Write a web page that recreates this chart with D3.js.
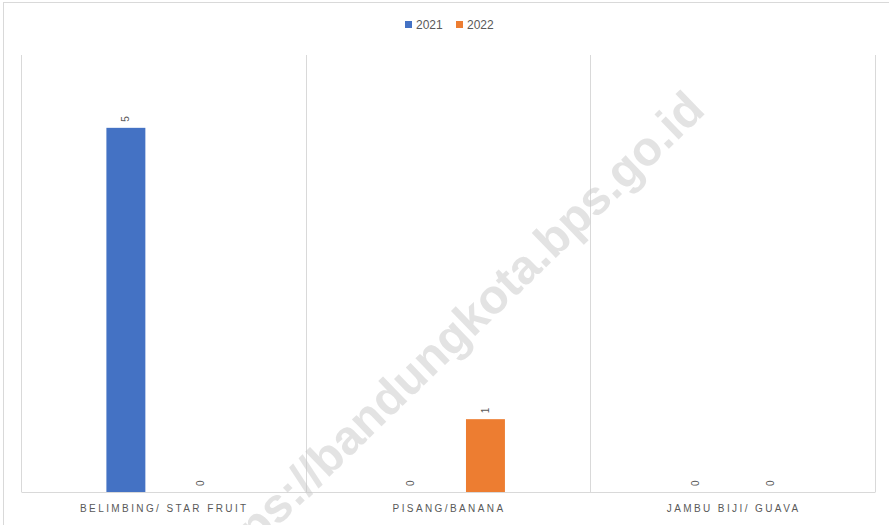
<!DOCTYPE html>
<html>
<head>
<meta charset="utf-8">
<script src="https://cdn.jsdelivr.net/npm/d3@7"></script>
<style>
  body { margin: 0; background: #fff; }
  text { font-family: "Liberation Sans", Arial, sans-serif; }
</style>
</head>
<body>
<div id="chart"></div>
<script>
// data
var categories = ["BELIMBING/ STAR FRUIT", "PISANG/BANANA", "JAMBU BIJI/ GUAVA"];
var seriesNames = ["2021", "2022"];
var values2021 = [5, 0, 0];
var values2022 = [0, 1, 0];
var colors = ["#4472c4", "#ed7d31"];

var svgWidth = 889;
var svgHeight = 525;

var margin = {
    top: 55,
    right: 14,
    bottom: 33,
    left: 21
};

var width = svgWidth - margin.left - margin.right;
var height = svgHeight - margin.top - margin.bottom;

var svg = d3.select("#chart")
    .append("svg")
    .attr("width", svgWidth)
    .attr("height", svgHeight);

// outer chart border
svg.append("rect")
    .attr("x", 3.5)
    .attr("y", 2.5)
    .attr("width", 900)
    .attr("height", 540)
    .attr("fill", "none")
    .attr("stroke", "#d9d9d9");

var chartGroup = svg.append("g")
    .attr("transform", `translate(${margin.left}, ${margin.top})`);

var rows = categories.map(function (c, i) {
    return { cat: c, vals: [values2021[i], values2022[i]] };
});

var x0 = d3.scaleBand()
    .domain(categories)
    .range([0, width])
    .padding(0);

var x1 = d3.scaleBand()
    .domain(seriesNames)
    .range([0, x0.bandwidth()])
    .paddingInner(0.48)
    .paddingOuter(1.14);

var y = d3.scaleLinear()
    .domain([0, 6])
    .range([height, 0]);

// category separators
var bounds = categories.map(c => x0(c)).concat([width]);
chartGroup.selectAll(".sep")
    .data(bounds)
    .enter()
    .append("line")
    .attr("x1", d => Math.round(d) + 0.5)
    .attr("x2", d => Math.round(d) + 0.5)
    .attr("y1", 0)
    .attr("y2", height)
    .attr("stroke", "#d9d9d9");

// bottom axis
var bottomAxis = d3.axisBottom(x0).tickSize(0).tickPadding(13);
var xAxis = chartGroup.append("g")
    .attr("transform", `translate(0, ${height})`)
    .call(bottomAxis);
xAxis.select(".domain").attr("stroke", "#d9d9d9");
xAxis.selectAll("text")
    .attr("fill", "#595959")
    .attr("dx", "1px")
    .style("font-size", "10px")
    .style("letter-spacing", "2.4px")
    .style("font-family", "\"Liberation Sans\", Arial, sans-serif");

// bars
var groups = chartGroup.selectAll(".grp")
    .data(rows)
    .enter()
    .append("g")
    .attr("transform", d => `translate(${x0(d.cat)}, 0)`);

groups.selectAll("rect")
    .data(d => d.vals.map((v, i) => ({ s: seriesNames[i], v: v, i: i })))
    .enter()
    .append("rect")
    .attr("x", d => x1(d.s))
    .attr("y", d => y(d.v))
    .attr("width", x1.bandwidth())
    .attr("height", d => height - y(d.v))
    .attr("fill", d => colors[d.i]);

// value labels (rotated)
groups.selectAll(".lbl")
    .data(d => d.vals.map((v, i) => ({ s: seriesNames[i], v: v })))
    .enter()
    .append("text")
    .attr("transform", d => `translate(${x1(d.s) + x1.bandwidth() / 2}, ${y(d.v) - 6}) rotate(-90)`)
    .attr("dy", "0.35em")
    .attr("text-anchor", "start")
    .attr("fill", "#595959")
    .style("font-size", "10px")
    .text(d => d.v);

// legend
var legend = svg.append("g")
    .attr("transform", "translate(405, 25)");
var legItems = legend.selectAll("g")
    .data(seriesNames)
    .enter()
    .append("g")
    .attr("transform", (d, i) => `translate(${i * 51}, 0)`);
legItems.append("rect")
    .attr("x", 0)
    .attr("y", -4)
    .attr("width", 7)
    .attr("height", 7)
    .attr("fill", (d, i) => colors[i]);
legItems.append("text")
    .attr("x", 11)
    .attr("y", 0)
    .attr("dy", "0.35em")
    .attr("fill", "#595959")
    .style("font-size", "12px")
    .text(d => d);

// watermark
svg.append("text")
    .attr("transform", "translate(212, 590) rotate(-44)")
    .attr("fill", "#c8c8c8")
    .attr("opacity", 0.5)
    .style("font-size", "48px")
    .style("font-weight", "bold")
    .text("https://bandungkota.bps.go.id");
</script>
</body>
</html>
